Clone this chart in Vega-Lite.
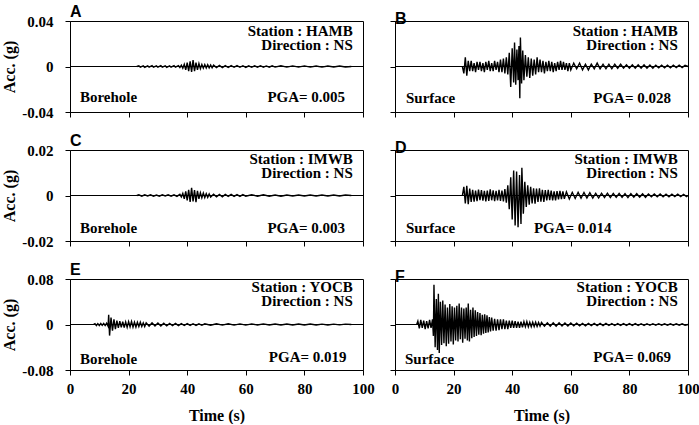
{
  "$schema": "https://vega.github.io/schema/vega-lite/v6.json",
  "background": "white",
  "padding": {"left": 1, "top": 3, "right": 5, "bottom": 0},
  "config": {
    "font": "Liberation Serif",
    "view": {"stroke": "black", "strokeWidth": 1},
    "axis": {
      "grid": false, "domainColor": "black", "tickColor": "black", "tickSize": 5,
      "labelFont": "Liberation Serif", "labelFontSize": 15, "labelFontWeight": "bold", "labelColor": "black",
      "labelFlush": false,
      "titleFont": "Liberation Serif", "titleFontSize": 16, "titleFontWeight": "bold", "titleColor": "black"
    },
    "axisY": {"titlePadding": 4, "labelPadding": 12},
    "axisX": {"titlePadding": 11, "labelPadding": 6},
    "title": {"font": "Liberation Sans", "fontSize": 16, "fontWeight": "bold", "color": "black", "anchor": "start", "frame": "group", "offset": -6, "baseline": "alphabetic"},
    "text": {"font": "Liberation Serif", "fontSize": 15, "fontWeight": "bold", "color": "black"},
    "line": {"color": "black", "strokeWidth": 1.4},
    "rule": {"color": "black", "strokeWidth": 1}
  },
  "datasets": {
    "A": [{"t":22.8,"a":0},{"t":23.5,"a":0.0007},{"t":24,"a":-0.0006},{"t":25,"a":0.0005},{"t":25.5,"a":-0.0007},{"t":26.5,"a":0.0006},{"t":27,"a":-0.0005},{"t":28,"a":0.0007},{"t":28.5,"a":-0.0006},{"t":29.5,"a":0.0005},{"t":30,"a":-0.0006},{"t":31,"a":0.0007},{"t":31.5,"a":-0.0005},{"t":32.5,"a":0.0006},{"t":33,"a":-0.0007},{"t":34,"a":0.0005},{"t":34.5,"a":-0.0006},{"t":35.5,"a":0.0007},{"t":36,"a":-0.0006},{"t":37,"a":0.0008},{"t":37.5,"a":-0.0009},{"t":38,"a":0.0012},{"t":38.5,"a":-0.0015},{"t":39,"a":0.002},{"t":39.5,"a":-0.003},{"t":40,"a":0.0035},{"t":40.5,"a":-0.004},{"t":41,"a":0.0045},{"t":41.5,"a":-0.0048},{"t":42,"a":0.0056},{"t":42.5,"a":-0.004},{"t":43,"a":0.0035},{"t":43.5,"a":-0.003},{"t":44,"a":0.0025},{"t":44.5,"a":-0.002},{"t":45,"a":0.0018},{"t":45.5,"a":-0.0015},{"t":46,"a":0.0017},{"t":46.5,"a":-0.0014},{"t":47,"a":0.0015},{"t":47.5,"a":-0.0012},{"t":48,"a":0.0013},{"t":48.5,"a":-0.0011},{"t":49,"a":0.0012},{"t":50,"a":-0.001},{"t":51,"a":0.0009},{"t":52,"a":-0.001},{"t":53,"a":0.0008},{"t":54,"a":-0.0009},{"t":55,"a":0.0008},{"t":56,"a":-0.0007},{"t":57,"a":0.0008},{"t":58,"a":-0.0007},{"t":59,"a":0.0007},{"t":60,"a":-0.0008},{"t":61,"a":0.0006},{"t":62,"a":-0.0007},{"t":63,"a":0.0006},{"t":64,"a":-0.0006},{"t":65,"a":0.0007},{"t":66,"a":-0.0006},{"t":67,"a":0.0005},{"t":68,"a":-0.0006},{"t":69,"a":0.0006},{"t":70,"a":-0.0005},{"t":72,"a":0.0006},{"t":74,"a":-0.0005},{"t":76,"a":0.0005},{"t":78,"a":-0.0005},{"t":80,"a":0.0005},{"t":82,"a":-0.0005},{"t":84,"a":0.0004},{"t":86,"a":-0.0005},{"t":88,"a":0.0004},{"t":90,"a":-0.0004},{"t":92,"a":0.0004},{"t":94,"a":-0.0004},{"t":96,"a":0}],
    "B": [{"t":23,"a":0},{"t":23.5,"a":-0.006},{"t":24,"a":0.008},{"t":24.5,"a":-0.008},{"t":25,"a":0.005},{"t":25.5,"a":-0.004},{"t":26,"a":0.005},{"t":26.5,"a":-0.004},{"t":27,"a":0.003},{"t":27.5,"a":-0.005},{"t":28,"a":0.004},{"t":28.5,"a":-0.003},{"t":29,"a":0.004},{"t":29.5,"a":-0.004},{"t":30,"a":0.003},{"t":30.5,"a":-0.005},{"t":31,"a":0.004},{"t":31.5,"a":-0.003},{"t":32,"a":0.005},{"t":32.5,"a":-0.004},{"t":33,"a":0.003},{"t":33.5,"a":-0.004},{"t":34,"a":0.005},{"t":34.5,"a":-0.003},{"t":35,"a":0.004},{"t":35.5,"a":-0.005},{"t":36,"a":0.006},{"t":36.5,"a":-0.005},{"t":37,"a":0.007},{"t":37.5,"a":-0.006},{"t":38,"a":0.008},{"t":38.5,"a":-0.007},{"t":39,"a":0.012},{"t":39.5,"a":-0.018},{"t":40,"a":0.016},{"t":40.5,"a":-0.014},{"t":40.8,"a":0.021},{"t":41.2,"a":-0.016},{"t":41.6,"a":0.015},{"t":42,"a":-0.012},{"t":42.3,"a":0.018},{"t":42.6,"a":-0.028},{"t":42.8,"a":0.0255},{"t":43.2,"a":-0.015},{"t":43.6,"a":0.014},{"t":44,"a":-0.012},{"t":44.5,"a":0.01},{"t":45,"a":-0.009},{"t":45.5,"a":0.008},{"t":46,"a":-0.01},{"t":46.5,"a":0.007},{"t":47,"a":-0.008},{"t":47.5,"a":0.006},{"t":48,"a":-0.007},{"t":48.5,"a":0.008},{"t":49,"a":-0.005},{"t":49.5,"a":0.006},{"t":50,"a":-0.005},{"t":50.5,"a":0.005},{"t":51,"a":-0.006},{"t":51.5,"a":0.004},{"t":52,"a":-0.004},{"t":52.5,"a":0.005},{"t":53,"a":-0.004},{"t":53.5,"a":0.004},{"t":54,"a":-0.005},{"t":54.5,"a":0.003},{"t":55,"a":-0.004},{"t":55.5,"a":0.004},{"t":56,"a":-0.003},{"t":56.5,"a":0.005},{"t":57,"a":-0.003},{"t":57.5,"a":0.004},{"t":58,"a":-0.003},{"t":58.5,"a":0.003},{"t":59,"a":-0.004},{"t":59.5,"a":0.003},{"t":60,"a":-0.003},{"t":61,"a":0.003},{"t":62,"a":-0.002},{"t":63,"a":0.003},{"t":64,"a":-0.003},{"t":65,"a":0.002},{"t":66,"a":-0.003},{"t":67,"a":0.002},{"t":68,"a":-0.002},{"t":69,"a":0.003},{"t":70,"a":-0.002},{"t":71,"a":0.002},{"t":72,"a":-0.002},{"t":73,"a":0.002},{"t":74,"a":-0.002},{"t":75,"a":0.002},{"t":76,"a":-0.0015},{"t":77,"a":0.002},{"t":78,"a":-0.0015},{"t":79,"a":0.0015},{"t":80,"a":-0.0015},{"t":81,"a":0.0015},{"t":82,"a":-0.0015},{"t":83,"a":0.0015},{"t":84,"a":-0.0015},{"t":85,"a":0.0015},{"t":86,"a":-0.0015},{"t":87,"a":0.0012},{"t":88,"a":-0.0015},{"t":89,"a":0.0012},{"t":90,"a":-0.0012},{"t":91,"a":0.0012},{"t":92,"a":-0.0012},{"t":93,"a":0.0012},{"t":94,"a":-0.0012},{"t":95,"a":0.0012},{"t":96,"a":-0.001},{"t":97,"a":0.0012},{"t":98,"a":-0.001},{"t":99,"a":0.001},{"t":100,"a":0}],
    "C": [{"t":22.8,"a":0},{"t":23.5,"a":0.0003},{"t":24.5,"a":-0.0003},{"t":25.5,"a":0.0003},{"t":26.5,"a":-0.0002},{"t":27.5,"a":0.0003},{"t":28.5,"a":-0.0003},{"t":29.5,"a":0.0002},{"t":30.5,"a":-0.0003},{"t":31.5,"a":0.0003},{"t":32.5,"a":-0.0002},{"t":33.5,"a":0.0003},{"t":34.5,"a":-0.0003},{"t":35.5,"a":0.0003},{"t":36.5,"a":-0.0004},{"t":37.5,"a":0.0005},{"t":38,"a":-0.0006},{"t":38.5,"a":0.0009},{"t":39,"a":-0.0015},{"t":39.5,"a":0.0018},{"t":40,"a":-0.0022},{"t":40.5,"a":0.0025},{"t":41,"a":-0.0028},{"t":41.5,"a":0.0034},{"t":42,"a":-0.0026},{"t":42.5,"a":0.0024},{"t":43,"a":-0.0029},{"t":43.5,"a":0.002},{"t":44,"a":-0.0015},{"t":44.5,"a":0.0012},{"t":45,"a":-0.001},{"t":45.5,"a":0.0011},{"t":46,"a":-0.0009},{"t":46.5,"a":0.0008},{"t":47,"a":-0.0008},{"t":47.5,"a":0.0007},{"t":48,"a":-0.0007},{"t":49,"a":0.0006},{"t":50,"a":-0.0006},{"t":51,"a":0.0005},{"t":52,"a":-0.0006},{"t":53,"a":0.0005},{"t":54,"a":-0.0004},{"t":55,"a":0.0005},{"t":56,"a":-0.0004},{"t":57,"a":0.0004},{"t":58,"a":-0.0004},{"t":59,"a":0.0004},{"t":60,"a":-0.0003},{"t":62,"a":0.0003},{"t":64,"a":-0.0003},{"t":66,"a":0.0003},{"t":68,"a":-0.0003},{"t":70,"a":0.0002},{"t":72,"a":-0.0003},{"t":74,"a":0.0002},{"t":76,"a":-0.0002},{"t":78,"a":0.0002},{"t":80,"a":-0.0002},{"t":82,"a":0.0002},{"t":84,"a":-0.0002},{"t":86,"a":0.0002},{"t":88,"a":-0.0002},{"t":90,"a":0.0002},{"t":92,"a":-0.0002},{"t":94,"a":0.0002},{"t":96,"a":0}],
    "D": [{"t":23,"a":0},{"t":23.5,"a":0.0038},{"t":24,"a":-0.0035},{"t":24.5,"a":0.0043},{"t":25,"a":-0.0038},{"t":25.5,"a":0.003},{"t":26,"a":-0.0028},{"t":26.5,"a":0.0025},{"t":27,"a":-0.0027},{"t":27.5,"a":0.0022},{"t":28,"a":-0.0025},{"t":28.5,"a":0.0026},{"t":29,"a":-0.002},{"t":29.5,"a":0.0024},{"t":30,"a":-0.0023},{"t":30.5,"a":0.002},{"t":31,"a":-0.0026},{"t":31.5,"a":0.0022},{"t":32,"a":-0.0024},{"t":32.5,"a":0.0027},{"t":33,"a":-0.0021},{"t":33.5,"a":0.0023},{"t":34,"a":-0.0025},{"t":34.5,"a":0.002},{"t":35,"a":-0.0022},{"t":35.5,"a":0.0025},{"t":36,"a":-0.0024},{"t":36.5,"a":0.0022},{"t":37,"a":-0.0026},{"t":37.5,"a":0.0028},{"t":38,"a":-0.0032},{"t":38.5,"a":0.0045},{"t":39,"a":-0.006},{"t":39.5,"a":0.008},{"t":40,"a":-0.0105},{"t":40.5,"a":0.011},{"t":41,"a":-0.0132},{"t":41.5,"a":0.0105},{"t":42,"a":-0.0139},{"t":42.5,"a":0.009},{"t":43,"a":-0.0125},{"t":43.3,"a":0.0122},{"t":43.8,"a":-0.008},{"t":44.3,"a":0.006},{"t":44.8,"a":-0.005},{"t":45.3,"a":0.0045},{"t":45.8,"a":-0.004},{"t":46.3,"a":0.0038},{"t":46.8,"a":-0.0035},{"t":47.3,"a":0.0032},{"t":47.8,"a":-0.0036},{"t":48.3,"a":0.003},{"t":48.8,"a":-0.0028},{"t":49.3,"a":0.0032},{"t":49.8,"a":-0.0027},{"t":50.3,"a":0.0025},{"t":50.8,"a":-0.0028},{"t":51.3,"a":0.0024},{"t":51.8,"a":-0.0022},{"t":52.3,"a":0.0025},{"t":52.8,"a":-0.002},{"t":53.3,"a":0.0022},{"t":53.8,"a":-0.0021},{"t":54.3,"a":0.0018},{"t":54.8,"a":-0.0022},{"t":55.3,"a":0.0019},{"t":55.8,"a":-0.0017},{"t":56.3,"a":0.002},{"t":56.8,"a":-0.0016},{"t":57.3,"a":0.0018},{"t":57.8,"a":-0.0015},{"t":58.5,"a":0.0016},{"t":59.5,"a":-0.0015},{"t":60.5,"a":0.0014},{"t":61.5,"a":-0.0013},{"t":62.5,"a":0.0014},{"t":63.5,"a":-0.0012},{"t":64.5,"a":0.0013},{"t":65.5,"a":-0.0011},{"t":66.5,"a":0.0012},{"t":67.5,"a":-0.0011},{"t":68.5,"a":0.001},{"t":69.5,"a":-0.0011},{"t":70.5,"a":0.001},{"t":71.5,"a":-0.0009},{"t":72.5,"a":0.001},{"t":73.5,"a":-0.0009},{"t":74.5,"a":0.0009},{"t":75.5,"a":-0.0008},{"t":76.5,"a":0.0009},{"t":77.5,"a":-0.0008},{"t":78.5,"a":0.0008},{"t":79.5,"a":-0.0009},{"t":80.5,"a":0.0008},{"t":81.5,"a":-0.0007},{"t":82.5,"a":0.0008},{"t":83.5,"a":-0.0007},{"t":84.5,"a":0.0007},{"t":85.5,"a":-0.0008},{"t":86.5,"a":0.0007},{"t":87.5,"a":-0.0006},{"t":88.5,"a":0.0007},{"t":89.5,"a":-0.0006},{"t":90.5,"a":0.0007},{"t":91.5,"a":-0.0006},{"t":92.5,"a":0.0006},{"t":93.5,"a":-0.0006},{"t":94.5,"a":0.0006},{"t":95.5,"a":-0.0005},{"t":96.5,"a":0.0006},{"t":97.5,"a":-0.0005},{"t":98.5,"a":0.0005},{"t":99.5,"a":-0.0005},{"t":100,"a":0}],
    "E": [{"t":8,"a":0},{"t":8.5,"a":0.0015},{"t":9,"a":-0.0018},{"t":9.5,"a":0.0016},{"t":10,"a":-0.002},{"t":10.5,"a":0.0018},{"t":11,"a":-0.0015},{"t":11.5,"a":0.002},{"t":12,"a":-0.0018},{"t":12.5,"a":0.0022},{"t":13,"a":-0.003},{"t":13.2,"a":0.017},{"t":13.5,"a":-0.0195},{"t":14,"a":0.012},{"t":14.5,"a":-0.011},{"t":15,"a":0.009},{"t":15.5,"a":-0.008},{"t":16,"a":0.007},{"t":16.5,"a":-0.006},{"t":17,"a":0.006},{"t":17.5,"a":-0.005},{"t":18,"a":0.005},{"t":18.5,"a":-0.0055},{"t":19,"a":0.0045},{"t":19.5,"a":-0.005},{"t":20,"a":0.005},{"t":20.5,"a":-0.004},{"t":21,"a":0.0055},{"t":21.5,"a":-0.0045},{"t":22,"a":0.004},{"t":22.5,"a":-0.0045},{"t":23,"a":0.004},{"t":23.5,"a":-0.0035},{"t":24,"a":0.004},{"t":24.5,"a":-0.0035},{"t":25,"a":0.003},{"t":25.5,"a":-0.0035},{"t":26,"a":0.003},{"t":27,"a":-0.003},{"t":28,"a":0.003},{"t":29,"a":-0.0025},{"t":30,"a":0.0028},{"t":31,"a":-0.0025},{"t":32,"a":0.0022},{"t":33,"a":-0.0025},{"t":34,"a":0.002},{"t":35,"a":-0.002},{"t":36,"a":0.0018},{"t":37,"a":-0.002},{"t":38,"a":0.0016},{"t":39,"a":-0.0018},{"t":40,"a":0.0015},{"t":41,"a":-0.0015},{"t":42,"a":0.0014},{"t":43,"a":-0.0015},{"t":44,"a":0.0013},{"t":45,"a":-0.0014},{"t":46,"a":0.0012},{"t":48,"a":-0.0013},{"t":50,"a":0.0012},{"t":52,"a":-0.0011},{"t":54,"a":0.0012},{"t":56,"a":-0.001},{"t":58,"a":0.0011},{"t":60,"a":-0.001},{"t":62,"a":0.001},{"t":64,"a":-0.0009},{"t":66,"a":0.001},{"t":68,"a":-0.0009},{"t":70,"a":0.0009},{"t":72,"a":-0.0009},{"t":74,"a":0.0008},{"t":76,"a":-0.0009},{"t":78,"a":0.0008},{"t":80,"a":-0.0008},{"t":82,"a":0.0008},{"t":84,"a":-0.0008},{"t":86,"a":0.0007},{"t":88,"a":-0.0008},{"t":90,"a":0.0007},{"t":92,"a":-0.0007},{"t":94,"a":0.0007},{"t":96,"a":0}],
    "F": [{"t":7.4,"a":0},{"t":7.8,"a":0.006},{"t":8.3,"a":-0.007},{"t":8.8,"a":0.008},{"t":9.3,"a":-0.006},{"t":9.8,"a":0.007},{"t":10.3,"a":-0.008},{"t":10.8,"a":0.006},{"t":11.3,"a":-0.007},{"t":11.8,"a":0.008},{"t":12.3,"a":-0.006},{"t":12.8,"a":0.009},{"t":13.1,"a":-0.02},{"t":13.3,"a":0.0697},{"t":13.7,"a":-0.04},{"t":14.1,"a":0.045},{"t":14.5,"a":-0.045},{"t":14.8,"a":0.054},{"t":15.1,"a":-0.05},{"t":15.5,"a":0.04},{"t":15.9,"a":-0.036},{"t":16.3,"a":0.042},{"t":16.7,"a":-0.033},{"t":17.1,"a":0.035},{"t":17.5,"a":-0.038},{"t":17.9,"a":0.03},{"t":18.3,"a":-0.034},{"t":18.7,"a":0.036},{"t":19.1,"a":-0.03},{"t":19.5,"a":0.032},{"t":19.9,"a":-0.035},{"t":20.3,"a":0.03},{"t":20.7,"a":-0.028},{"t":21.1,"a":0.033},{"t":21.5,"a":-0.03},{"t":21.9,"a":0.037},{"t":22.3,"a":-0.026},{"t":22.7,"a":0.03},{"t":23.1,"a":-0.032},{"t":23.5,"a":0.028},{"t":23.9,"a":-0.025},{"t":24.3,"a":0.03},{"t":24.7,"a":-0.028},{"t":25,"a":0.037},{"t":25.4,"a":-0.03},{"t":25.8,"a":0.026},{"t":26.2,"a":-0.024},{"t":26.6,"a":0.03},{"t":27,"a":-0.022},{"t":27.4,"a":0.025},{"t":27.8,"a":-0.02},{"t":28.2,"a":0.022},{"t":28.6,"a":-0.018},{"t":29,"a":0.02},{"t":29.4,"a":-0.019},{"t":29.8,"a":0.017},{"t":30.2,"a":-0.016},{"t":30.6,"a":0.018},{"t":31,"a":-0.015},{"t":31.4,"a":0.016},{"t":31.8,"a":-0.014},{"t":32.2,"a":0.013},{"t":32.6,"a":-0.012},{"t":33,"a":0.012},{"t":33.5,"a":-0.011},{"t":34,"a":0.01},{"t":34.5,"a":-0.011},{"t":35,"a":0.009},{"t":35.5,"a":-0.01},{"t":36,"a":0.009},{"t":36.5,"a":-0.008},{"t":37,"a":0.009},{"t":37.5,"a":-0.008},{"t":38,"a":0.007},{"t":38.5,"a":-0.008},{"t":39,"a":0.007},{"t":39.5,"a":-0.006},{"t":40,"a":0.007},{"t":40.5,"a":-0.006},{"t":41,"a":0.006},{"t":41.5,"a":-0.006},{"t":42,"a":0.005},{"t":42.5,"a":-0.006},{"t":43,"a":0.005},{"t":43.5,"a":-0.005},{"t":44,"a":0.005},{"t":44.5,"a":-0.004},{"t":45,"a":0.005},{"t":45.5,"a":-0.004},{"t":46,"a":0.004},{"t":46.5,"a":-0.004},{"t":47,"a":0.004},{"t":47.5,"a":-0.0035},{"t":48,"a":0.004},{"t":48.5,"a":-0.0035},{"t":49,"a":0.0035},{"t":49.5,"a":-0.003},{"t":50,"a":0.0035},{"t":51,"a":-0.003},{"t":52,"a":0.003},{"t":53,"a":-0.003},{"t":54,"a":0.0028},{"t":55,"a":-0.0028},{"t":56,"a":0.003},{"t":57,"a":-0.0025},{"t":58,"a":0.0026},{"t":59,"a":-0.0025},{"t":60,"a":0.0025},{"t":61,"a":-0.0022},{"t":62,"a":0.0024},{"t":63,"a":-0.0022},{"t":64,"a":0.002},{"t":65,"a":-0.0022},{"t":66,"a":0.002},{"t":67,"a":-0.002},{"t":68,"a":0.002},{"t":69,"a":-0.0018},{"t":70,"a":0.002},{"t":71,"a":-0.0018},{"t":72,"a":0.0018},{"t":73,"a":-0.0018},{"t":74,"a":0.0016},{"t":75,"a":-0.0018},{"t":76,"a":0.0016},{"t":77,"a":-0.0016},{"t":78,"a":0.0016},{"t":79,"a":-0.0015},{"t":80,"a":0.0016},{"t":81,"a":-0.0015},{"t":82,"a":0.0015},{"t":83,"a":-0.0015},{"t":84,"a":0.0014},{"t":85,"a":-0.0015},{"t":86,"a":0.0014},{"t":87,"a":-0.0014},{"t":88,"a":0.0014},{"t":89,"a":-0.0013},{"t":90,"a":0.0014},{"t":91,"a":-0.0013},{"t":92,"a":0.0013},{"t":93,"a":-0.0013},{"t":94,"a":0.0013},{"t":95,"a":-0.0012},{"t":96,"a":0.0012},{"t":97,"a":-0.0012},{"t":98,"a":0.0012},{"t":99,"a":-0.0012},{"t":100,"a":0}]
  },
  "spacing": 11,
  "vconcat": [
    {
      "spacing": 25,
      "resolve": {"scale": {"x": "independent", "y": "independent"}},
      "hconcat": [
        {
          "width": 293, "height": 91,
          "title": {"text": "A"},
          "layer": [
            {"data": {"name": "A"}, "mark": "line",
             "encoding": {
               "x": {"field": "t", "type": "quantitative", "scale": {"domain": [0, 100], "nice": false}, "axis": {"values": [0, 20, 40, 60, 80, 100], "labels": false, "title": null}},
               "y": {"field": "a", "type": "quantitative", "scale": {"domain": [-0.04, 0.04], "nice": false}, "axis": {"values": [-0.04, -0.02, 0, 0.02, 0.04], "labelExpr": "'' + datum.value", "title": "Acc. (g)"}}
             }},
            {"data": {"values": [{}]}, "mark": "rule", "encoding": {"y": {"datum": 0, "type": "quantitative"}}},
            {"data": {"values": [{}]}, "mark": {"type": "text", "align": "right", "baseline": "alphabetic", "lineHeight": 14},
             "encoding": {"x": {"datum": 96.5, "type": "quantitative"}, "y": {"datum": 0.0265, "type": "quantitative"}, "text": {"value": ["Station : HAMB", "Direction : NS"]}}},
            {"data": {"values": [{}]}, "mark": {"type": "text", "align": "left", "baseline": "alphabetic"},
             "encoding": {"x": {"datum": 3.4, "type": "quantitative"}, "y": {"datum": -0.0312, "type": "quantitative"}, "text": {"value": "Borehole"}}},
            {"data": {"values": [{}]}, "mark": {"type": "text", "align": "right", "baseline": "alphabetic"},
             "encoding": {"x": {"datum": 93.9, "type": "quantitative"}, "y": {"datum": -0.0316, "type": "quantitative"}, "text": {"value": "PGA= 0.005"}}}
          ]
        },
        {
          "width": 293, "height": 91,
          "title": {"text": "B"},
          "layer": [
            {"data": {"name": "B"}, "mark": "line",
             "encoding": {
               "x": {"field": "t", "type": "quantitative", "scale": {"domain": [0, 100], "nice": false}, "axis": {"values": [0, 20, 40, 60, 80, 100], "labels": false, "title": null}},
               "y": {"field": "a", "type": "quantitative", "scale": {"domain": [-0.04, 0.04], "nice": false}, "axis": {"values": [-0.04, -0.02, 0, 0.02, 0.04], "labels": false, "title": null}}
             }},
            {"data": {"values": [{}]}, "mark": "rule", "encoding": {"y": {"datum": 0, "type": "quantitative"}}},
            {"data": {"values": [{}]}, "mark": {"type": "text", "align": "right", "baseline": "alphabetic", "lineHeight": 14},
             "encoding": {"x": {"datum": 96.5, "type": "quantitative"}, "y": {"datum": 0.0265, "type": "quantitative"}, "text": {"value": ["Station : HAMB", "Direction : NS"]}}},
            {"data": {"values": [{}]}, "mark": {"type": "text", "align": "left", "baseline": "alphabetic"},
             "encoding": {"x": {"datum": 3.75, "type": "quantitative"}, "y": {"datum": -0.0318, "type": "quantitative"}, "text": {"value": "Surface"}}},
            {"data": {"values": [{}]}, "mark": {"type": "text", "align": "right", "baseline": "alphabetic"},
             "encoding": {"x": {"datum": 94.2, "type": "quantitative"}, "y": {"datum": -0.0318, "type": "quantitative"}, "text": {"value": "PGA= 0.028"}}}
          ]
        }
      ]
    },
    {
      "spacing": 25,
      "resolve": {"scale": {"x": "independent", "y": "independent"}},
      "hconcat": [
        {
          "width": 293, "height": 91,
          "title": {"text": "C"},
          "layer": [
            {"data": {"name": "C"}, "mark": "line",
             "encoding": {
               "x": {"field": "t", "type": "quantitative", "scale": {"domain": [0, 100], "nice": false}, "axis": {"values": [0, 20, 40, 60, 80, 100], "labels": false, "title": null}},
               "y": {"field": "a", "type": "quantitative", "scale": {"domain": [-0.02, 0.02], "nice": false}, "axis": {"values": [-0.02, -0.01, 0, 0.01, 0.02], "labelExpr": "'' + datum.value", "title": "Acc. (g)"}}
             }},
            {"data": {"values": [{}]}, "mark": "rule", "encoding": {"y": {"datum": 0, "type": "quantitative"}}},
            {"data": {"values": [{}]}, "mark": {"type": "text", "align": "right", "baseline": "alphabetic", "lineHeight": 14},
             "encoding": {"x": {"datum": 96.5, "type": "quantitative"}, "y": {"datum": 0.0138, "type": "quantitative"}, "text": {"value": ["Station : IMWB", "Direction : NS"]}}},
            {"data": {"values": [{}]}, "mark": {"type": "text", "align": "left", "baseline": "alphabetic"},
             "encoding": {"x": {"datum": 3.4, "type": "quantitative"}, "y": {"datum": -0.0167, "type": "quantitative"}, "text": {"value": "Borehole"}}},
            {"data": {"values": [{}]}, "mark": {"type": "text", "align": "right", "baseline": "alphabetic"},
             "encoding": {"x": {"datum": 93.9, "type": "quantitative"}, "y": {"datum": -0.0167, "type": "quantitative"}, "text": {"value": "PGA= 0.003"}}}
          ]
        },
        {
          "width": 293, "height": 91,
          "title": {"text": "D"},
          "layer": [
            {"data": {"name": "D"}, "mark": "line",
             "encoding": {
               "x": {"field": "t", "type": "quantitative", "scale": {"domain": [0, 100], "nice": false}, "axis": {"values": [0, 20, 40, 60, 80, 100], "labels": false, "title": null}},
               "y": {"field": "a", "type": "quantitative", "scale": {"domain": [-0.02, 0.02], "nice": false}, "axis": {"values": [-0.02, -0.01, 0, 0.01, 0.02], "labels": false, "title": null}}
             }},
            {"data": {"values": [{}]}, "mark": "rule", "encoding": {"y": {"datum": 0, "type": "quantitative"}}},
            {"data": {"values": [{}]}, "mark": {"type": "text", "align": "right", "baseline": "alphabetic", "lineHeight": 14},
             "encoding": {"x": {"datum": 96.5, "type": "quantitative"}, "y": {"datum": 0.0138, "type": "quantitative"}, "text": {"value": ["Station : IMWB", "Direction : NS"]}}},
            {"data": {"values": [{}]}, "mark": {"type": "text", "align": "left", "baseline": "alphabetic"},
             "encoding": {"x": {"datum": 3.75, "type": "quantitative"}, "y": {"datum": -0.0167, "type": "quantitative"}, "text": {"value": "Surface"}}},
            {"data": {"values": [{}]}, "mark": {"type": "text", "align": "left", "baseline": "alphabetic"},
             "encoding": {"x": {"datum": 47.4, "type": "quantitative"}, "y": {"datum": -0.0163, "type": "quantitative"}, "text": {"value": "PGA= 0.014"}}}
          ]
        }
      ]
    },
    {
      "spacing": 14,
      "resolve": {"scale": {"x": "independent", "y": "independent"}},
      "hconcat": [
        {
          "width": 293, "height": 91,
          "title": {"text": "E"},
          "layer": [
            {"data": {"name": "E"}, "mark": "line",
             "encoding": {
               "x": {"field": "t", "type": "quantitative", "scale": {"domain": [0, 100], "nice": false}, "axis": {"values": [0, 20, 40, 60, 80, 100], "title": "Time (s)"}},
               "y": {"field": "a", "type": "quantitative", "scale": {"domain": [-0.08, 0.08], "nice": false}, "axis": {"values": [-0.08, -0.04, 0, 0.04, 0.08], "labelExpr": "'' + datum.value", "title": "Acc. (g)"}}
             }},
            {"data": {"values": [{}]}, "mark": "rule", "encoding": {"y": {"datum": 0, "type": "quantitative"}}},
            {"data": {"values": [{}]}, "mark": {"type": "text", "align": "right", "baseline": "alphabetic", "lineHeight": 14},
             "encoding": {"x": {"datum": 96.5, "type": "quantitative"}, "y": {"datum": 0.0565, "type": "quantitative"}, "text": {"value": ["Station : YOCB", "Direction : NS"]}}},
            {"data": {"values": [{}]}, "mark": {"type": "text", "align": "left", "baseline": "alphabetic"},
             "encoding": {"x": {"datum": 3.4, "type": "quantitative"}, "y": {"datum": -0.069, "type": "quantitative"}, "text": {"value": "Borehole"}}},
            {"data": {"values": [{}]}, "mark": {"type": "text", "align": "right", "baseline": "alphabetic"},
             "encoding": {"x": {"datum": 94.4, "type": "quantitative"}, "y": {"datum": -0.0666, "type": "quantitative"}, "text": {"value": "PGA= 0.019"}}}
          ]
        },
        {
          "width": 293, "height": 91,
          "title": {"text": "F"},
          "layer": [
            {"data": {"name": "F"}, "mark": "line",
             "encoding": {
               "x": {"field": "t", "type": "quantitative", "scale": {"domain": [0, 100], "nice": false}, "axis": {"values": [0, 20, 40, 60, 80, 100], "title": "Time (s)"}},
               "y": {"field": "a", "type": "quantitative", "scale": {"domain": [-0.08, 0.08], "nice": false}, "axis": {"values": [-0.08, -0.04, 0, 0.04, 0.08], "labels": false, "title": null}}
             }},
            {"data": {"values": [{}]}, "mark": "rule", "encoding": {"y": {"datum": 0, "type": "quantitative"}}},
            {"data": {"values": [{}]}, "mark": {"type": "text", "align": "right", "baseline": "alphabetic", "lineHeight": 14},
             "encoding": {"x": {"datum": 96.5, "type": "quantitative"}, "y": {"datum": 0.0565, "type": "quantitative"}, "text": {"value": ["Station : YOCB", "Direction : NS"]}}},
            {"data": {"values": [{}]}, "mark": {"type": "text", "align": "left", "baseline": "alphabetic"},
             "encoding": {"x": {"datum": 3.4, "type": "quantitative"}, "y": {"datum": -0.0694, "type": "quantitative"}, "text": {"value": "Surface"}}},
            {"data": {"values": [{}]}, "mark": {"type": "text", "align": "right", "baseline": "alphabetic"},
             "encoding": {"x": {"datum": 94.2, "type": "quantitative"}, "y": {"datum": -0.0666, "type": "quantitative"}, "text": {"value": "PGA= 0.069"}}}
          ]
        }
      ]
    }
  ]
}
